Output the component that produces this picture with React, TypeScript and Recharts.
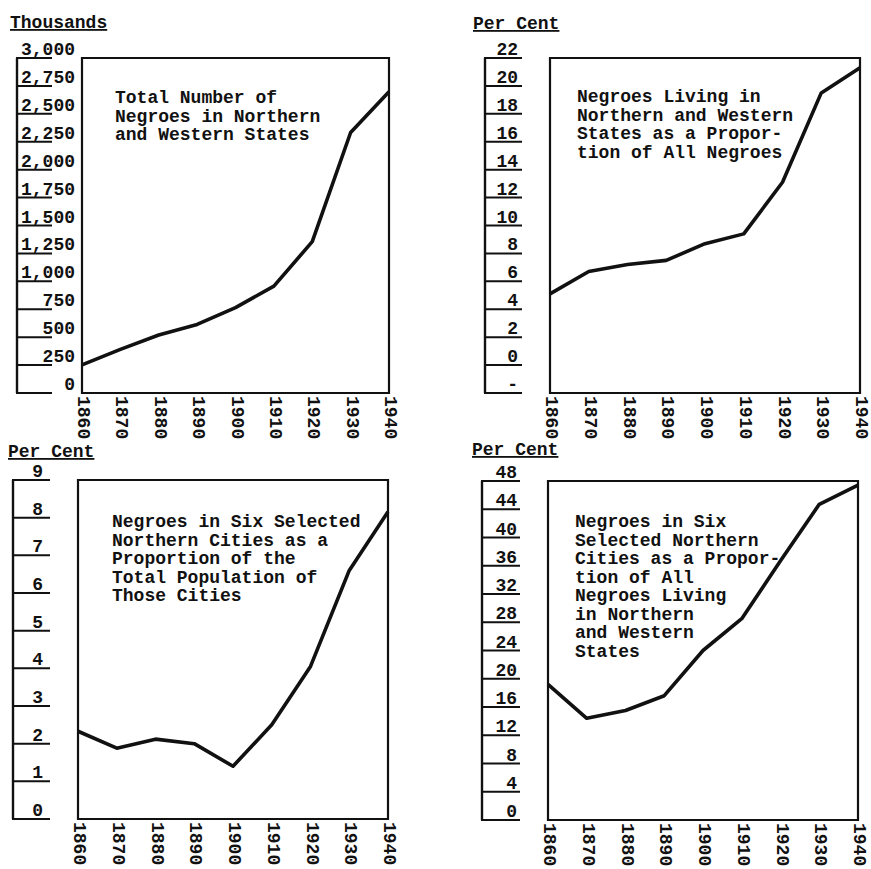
import React from "react";
import { LineChart, Line, XAxis, YAxis, ReferenceArea } from "recharts";

const FONT = "'Liberation Mono', 'Courier New', monospace";

// ---- data ----
const years = [1860, 1870, 1880, 1890, 1900, 1910, 1920, 1930, 1940];
// thousands
const totalNegroesNorthWest = [252, 391, 519, 614, 765, 957, 1355, 2333, 2697];
// per cent of all Negroes
const pctNorthWestOfAll = [5.1, 6.7, 7.2, 7.5, 8.7, 9.4, 13.1, 19.5, 21.3];
// per cent of total city population
const pctOfCityPopulation = [2.33, 1.88, 2.12, 2.0, 1.4, 2.5, 4.05, 6.6, 8.16];
// per cent of Negroes in Northern & Western states
const pctCitiesOfNorthWest = [19.2, 14.4, 15.5, 17.6, 24.0, 28.5, 36.7, 44.7, 47.4];

const ticksThousands = [0, 250, 500, 750, 1000, 1250, 1500, 1750, 2000, 2250, 2500, 2750, 3000];
const ticksPctAll = [-2, 0, 2, 4, 6, 8, 10, 12, 14, 16, 18, 20, 22];
const ticksPctCity = [0, 1, 2, 3, 4, 5, 6, 7, 8, 9];
const ticksPctNW = [0, 4, 8, 12, 16, 20, 24, 28, 32, 36, 40, 44, 48];

const titleThousands = "Thousands";
const titlePerCent = "Per Cent";

const note1 = ["Total Number of", "Negroes in Northern", "and Western States"];
const note2 = ["Negroes Living in", "Northern and Western", "States as a Propor-", "tion of All Negroes"];
const note3 = ["Negroes in Six Selected", "Northern Cities as a", "Proportion of the", "Total Population of", "Those Cities"];
const note4 = ["Negroes in Six", "Selected Northern", "Cities as a Propor-", "tion of All", "Negroes Living", "in Northern", "and Western", "States"];

const fmtThousands = (v: number) => v.toLocaleString("en-US");
const fmtPlain = (v: number) => (v < 0 ? "-" : String(v));

type Cfg = {
  left: number; top: number; width: number; height: number;
  plotLeft: number; plotRight: number; plotTop: number; plotBottom: number;
  rulerX: number; lineEnd: number; labelRight: number;
  values: number[]; yTicks: number[]; fmt: (v: number) => string;
  title: string; titleX: number; titleY: number;
  note: string[]; noteX: number; noteY: number;
};

const panels: Cfg[] = [
  {
    left: 0, top: 0, width: 435, height: 440,
    plotLeft: 82, plotRight: 389, plotTop: 58, plotBottom: 393,
    rulerX: 17, lineEnd: 52, labelRight: 75,
    values: totalNegroesNorthWest, yTicks: ticksThousands, fmt: fmtThousands,
    title: titleThousands, titleX: 10, titleY: 28,
    note: note1, noteX: 115, noteY: 103,
  },
  {
    left: 440, top: 0, width: 431, height: 440,
    plotLeft: 110, plotRight: 420, plotTop: 58, plotBottom: 393,
    rulerX: 45, lineEnd: 82, labelRight: 78,
    values: pctNorthWestOfAll, yTicks: ticksPctAll, fmt: fmtPlain,
    title: titlePerCent, titleX: 33, titleY: 29,
    note: note2, noteX: 137, noteY: 102,
  },
  {
    left: 0, top: 430, width: 435, height: 439,
    plotLeft: 78, plotRight: 388, plotTop: 50, plotBottom: 389,
    rulerX: 13, lineEnd: 50, labelRight: 43,
    values: pctOfCityPopulation, yTicks: ticksPctCity, fmt: fmtPlain,
    title: titlePerCent, titleX: 8, titleY: 27,
    note: note3, noteX: 112, noteY: 97,
  },
  {
    left: 440, top: 430, width: 431, height: 439,
    plotLeft: 108, plotRight: 418, plotTop: 51, plotBottom: 390,
    rulerX: 42, lineEnd: 80, labelRight: 77,
    values: pctCitiesOfNorthWest, yTicks: ticksPctNW, fmt: fmtPlain,
    title: titlePerCent, titleX: 32, titleY: 25,
    note: note4, noteX: 135, noteY: 97,
  },
];

const textStyle = { fontFamily: FONT, fontWeight: 700, fontSize: 18, fill: "#111" } as const;

function YTick(props: any) {
  const { y, payload, cfg } = props;
  const c: Cfg = cfg;
  const v = payload.value as number;
  const step = (c.plotBottom - c.plotTop) / (c.yTicks.length - 1);
  const isTop = v === c.yTicks[c.yTicks.length - 1];
  return (
    <g>
      <line x1={c.rulerX - 1} x2={c.lineEnd} y1={y} y2={y} stroke="#111" strokeWidth={2} />
      {!isTop && (
        <line x1={c.rulerX} x2={c.rulerX} y1={y} y2={y - step} stroke="#111" strokeWidth={2.4} />
      )}
      <text x={c.labelRight} y={y - 3} textAnchor="end" style={textStyle}>
        {c.fmt(v)}
      </text>
    </g>
  );
}

function XTick(props: any) {
  const { x, y, payload } = props;
  return (
    <text transform={`translate(${x},${y}) rotate(90)`} x={0} y={4} textAnchor="start" style={textStyle}>
      {payload.value}
    </text>
  );
}

function PanelChart({ c }: { c: Cfg }) {
  const rows = years.map((year, i) => ({ year, value: c.values[i] }));
  const yMin = c.yTicks[0];
  const yMax = c.yTicks[c.yTicks.length - 1];
  return (
    <div style={{ position: "absolute", left: c.left, top: c.top, width: c.width, height: c.height }}>
      <LineChart
        width={c.width}
        height={c.height}
        data={rows}
        margin={{ top: c.plotTop, left: 0, right: c.width - c.plotRight, bottom: 0 }}
        style={{ overflow: "visible" }}
      >
        <XAxis
          dataKey="year"
          type="number"
          domain={[1860, 1940]}
          ticks={years}
          interval={0}
          height={c.height - c.plotBottom}
          axisLine={false}
          tickLine={false}
          tickSize={0}
          tickMargin={3}
          tick={<XTick />}
        />
        <YAxis
          type="number"
          domain={[yMin, yMax]}
          ticks={c.yTicks}
          interval={0}
          allowDataOverflow
          width={c.plotLeft}
          axisLine={false}
          tickLine={false}
          tickSize={0}
          tickMargin={0}
          tick={<YTick cfg={c} />}
        />
        <ReferenceArea
          x1={1860}
          x2={1940}
          y1={yMin}
          y2={yMax}
          fill="none"
          fillOpacity={0}
          stroke="#111"
          strokeWidth={2.2}
          ifOverflow="visible"
        />
        <Line
          type="linear"
          dataKey="value"
          stroke="#111"
          strokeWidth={3.6}
          strokeLinejoin="round"
          dot={false}
          activeDot={false}
          isAnimationActive={false}
        />
        <g>
          <text x={c.titleX} y={c.titleY} style={{ ...textStyle, textDecoration: "underline" }}>
            {c.title}
          </text>
          {c.note.map((line, i) => (
            <text key={i} x={c.noteX} y={c.noteY + i * 18.5} style={textStyle}>
              {line}
            </text>
          ))}
        </g>
      </LineChart>
    </div>
  );
}

export default function App() {
  return (
    <div style={{ position: "relative", width: 871, height: 869, background: "#fff", overflow: "hidden" }}>
      <style>{`body{margin:0;background:#fff}`}</style>
      {panels.map((c, i) => (
        <PanelChart key={i} c={c} />
      ))}
    </div>
  );
}
